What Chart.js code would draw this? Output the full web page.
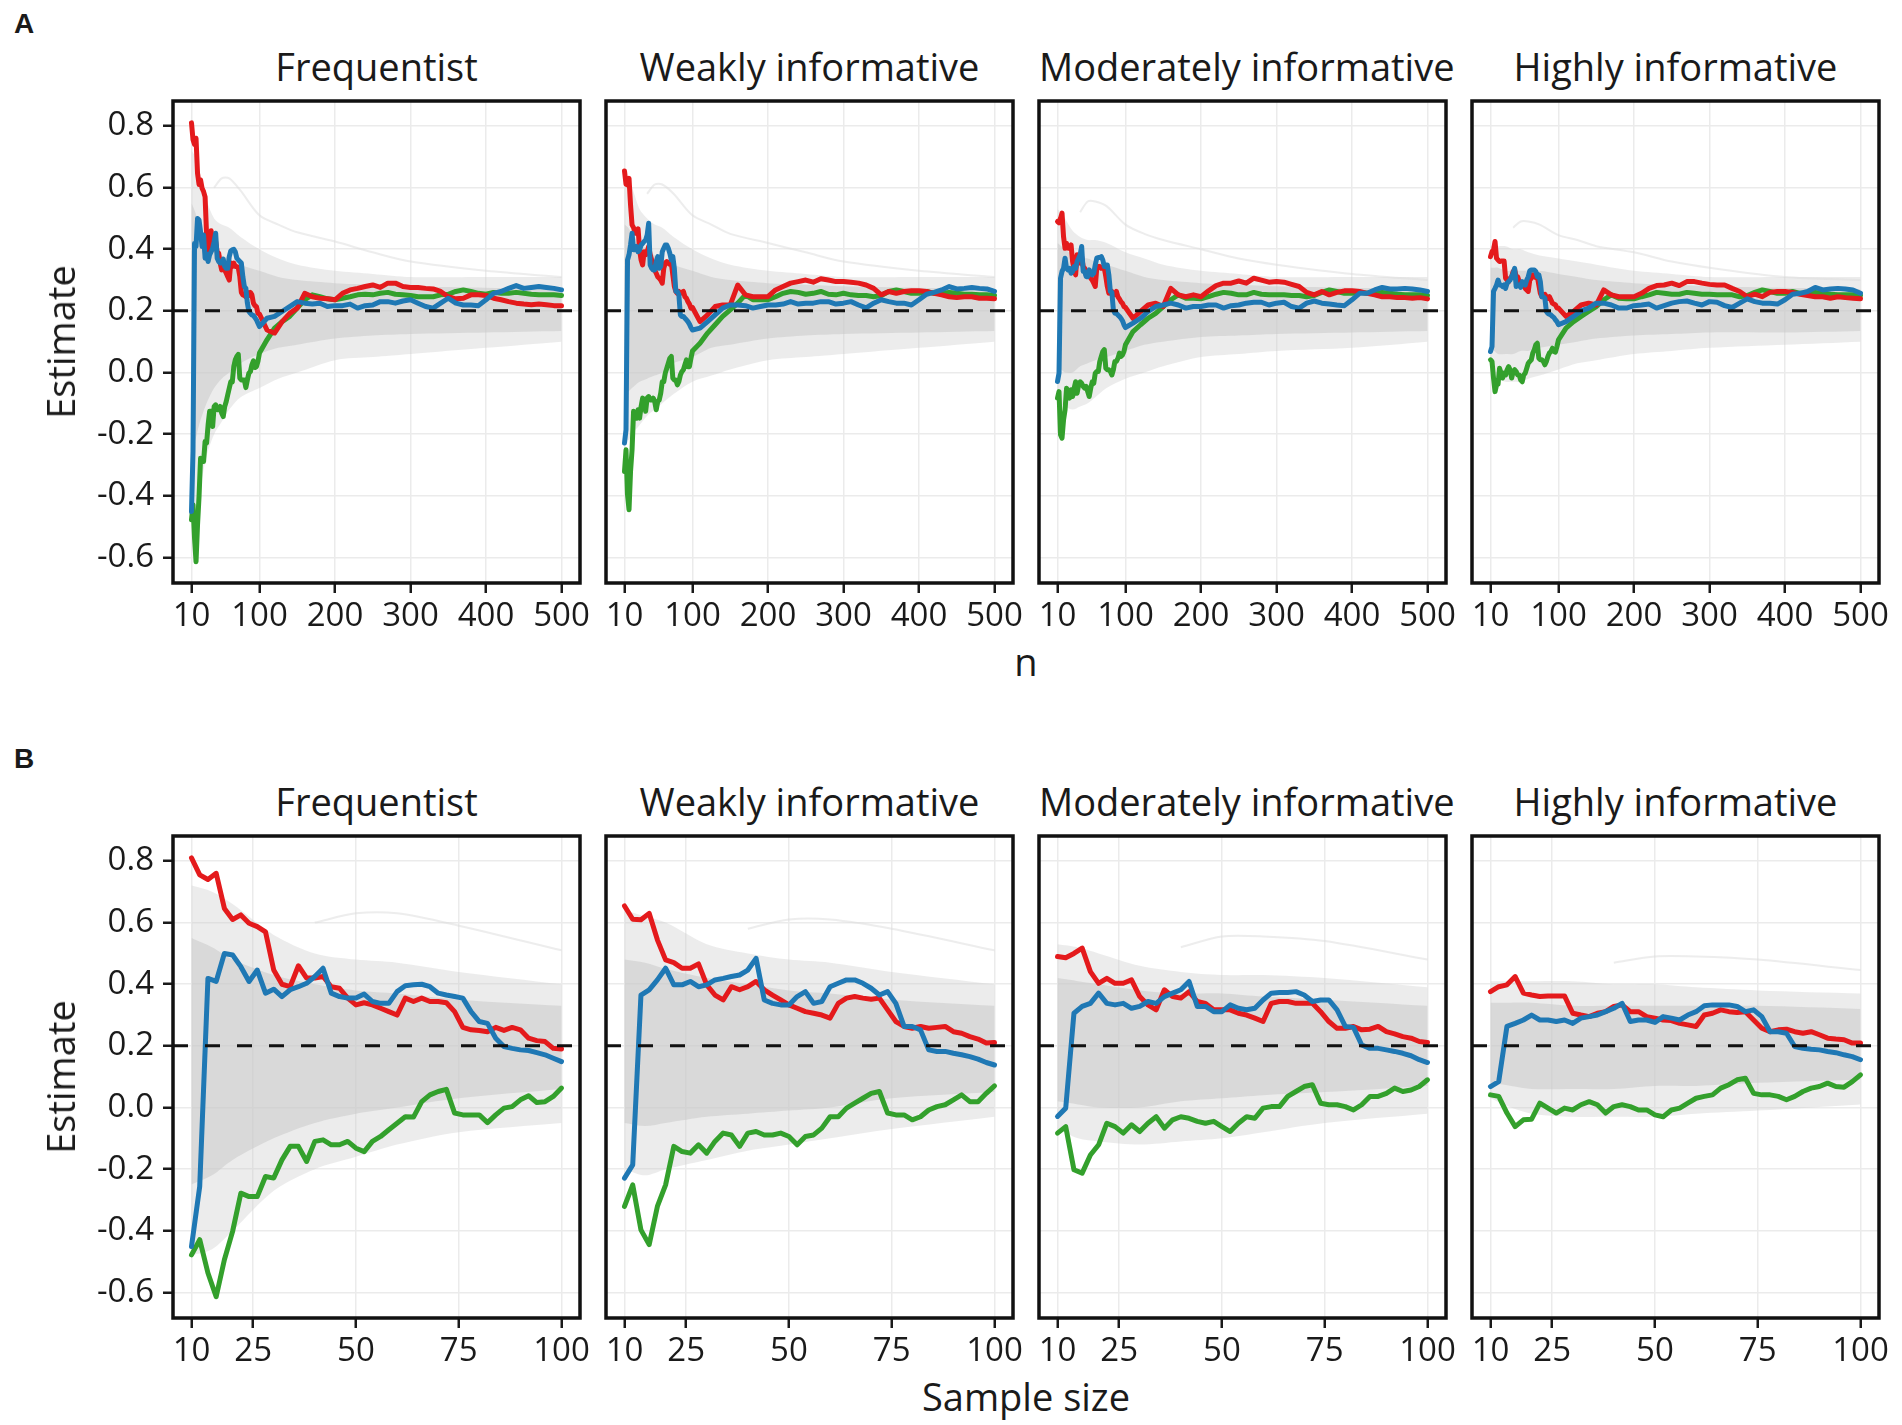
<!DOCTYPE html>
<html>
<head>
<meta charset="utf-8">
<title>Sequential estimates</title>
<script src="https://cdn.jsdelivr.net/npm/chart.js@4.4.1/dist/chart.umd.min.js"></script>
<style>
  html, body { margin: 0; padding: 0; background: #fff; }
  #page { position: relative; width: 1902px; height: 1425px; overflow: hidden; font-family: 'Open Sans', 'Noto Sans', sans-serif; color: #1a1a1a; }
  canvas { position: absolute; }
  .tag { position: absolute; font-family: 'Liberation Sans', Arial, sans-serif; font-weight: bold; font-size: 28px; }
  .strip { position: absolute; text-align: center; white-space: nowrap; font-size: 38px; height: 46px; line-height: 46px; }
  .axis-title { position: absolute; font-size: 38px; white-space: nowrap; transform: translate(-50%, -50%); }
  .axis-title.vert { transform: translate(-50%, -50%) rotate(-90deg); }
</style>
</head>
<body>
<div id="page"></div>
<script>
/* ---------- data ---------- */
// sample sizes: first 100 observations (panel B and start of panel A), then the rest of panel A
const N_HEAD = [10,12,14,16,18,20,22,24,26,28,30,32,34,36,38,40,42,44,46,48,50,52,54,56,58,60,62,64,66,68,70,72,74,76,78,80,82,84,86,88,90,92,94,96,98,100];
const N_TAIL = [110,120,130,140,150,160,170,180,190,200,210,220,230,240,250,260,270,280,290,300,310,320,330,340,350,360,370,380,390,400,410,420,430,440,450,460,470,480,490,500];

const PANEL_TITLES = ['Frequentist', 'Weakly informative', 'Moderately informative', 'Highly informative'];

const X_TICKS_A = [10, 100, 200, 300, 400, 500];
const X_TICKS_B = [10, 25, 50, 75, 100];
const Y_TICKS = [-0.6, -0.4, -0.2, 0, 0.2, 0.4, 0.6, 0.8];
const TRUE_VALUE = 0.2;

// Frequentist
const redFreq = [0.81,0.755,0.74,0.76,0.646,0.61,0.625,0.598,0.587,0.57,0.446,0.40,0.392,0.46,0.42,0.42,0.425,0.392,0.387,0.355,0.333,0.34,0.333,0.322,0.311,0.30,0.355,0.344,0.355,0.344,0.344,0.34,0.311,0.26,0.252,0.25,0.246,0.26,0.25,0.26,0.252,0.225,0.217,0.214,0.192,0.19];
const redFreqTail = [0.138,0.128,0.165,0.192,0.209,0.257,0.246,0.241,0.239,0.236,0.257,0.268,0.273,0.279,0.284,0.276,0.29,0.29,0.279,0.276,0.276,0.273,0.271,0.263,0.246,0.239,0.241,0.252,0.252,0.25,0.241,0.236,0.23,0.225,0.222,0.22,0.222,0.22,0.217,0.217];
const blueFreq = [-0.451,-0.256,0.419,0.409,0.50,0.495,0.457,0.409,0.446,0.371,0.384,0.36,0.382,0.392,0.403,0.425,0.452,0.371,0.36,0.355,0.355,0.368,0.344,0.338,0.338,0.376,0.395,0.398,0.40,0.392,0.371,0.365,0.36,0.355,0.311,0.279,0.273,0.225,0.198,0.192,0.187,0.185,0.178,0.171,0.16,0.149];
const blueFreqTail = [0.176,0.182,0.198,0.214,0.23,0.225,0.222,0.225,0.214,0.217,0.217,0.222,0.209,0.217,0.219,0.23,0.23,0.225,0.232,0.236,0.225,0.214,0.209,0.225,0.241,0.225,0.219,0.219,0.217,0.236,0.257,0.263,0.273,0.282,0.273,0.276,0.279,0.276,0.273,0.268];
const greenFreq = [-0.478,-0.429,-0.537,-0.614,-0.494,-0.402,-0.278,-0.289,-0.289,-0.224,-0.229,-0.17,-0.126,-0.126,-0.175,-0.11,-0.105,-0.121,-0.121,-0.11,-0.132,-0.143,-0.11,-0.094,-0.072,-0.051,-0.03,-0.031,0.019,0.041,0.052,0.059,-0.018,-0.024,-0.024,-0.024,-0.049,-0.024,-0.002,0.003,0.025,0.038,0.016,0.019,0.036,0.063];
const greenFreqTail = [0.106,0.144,0.165,0.182,0.209,0.236,0.252,0.246,0.239,0.236,0.241,0.246,0.252,0.254,0.252,0.257,0.26,0.254,0.252,0.25,0.246,0.246,0.246,0.252,0.254,0.263,0.268,0.263,0.257,0.254,0.26,0.257,0.257,0.26,0.257,0.254,0.252,0.252,0.252,0.25];

// Weakly informative
const redWeak = [0.654,0.611,0.609,0.63,0.544,0.479,0.47,0.452,0.452,0.466,0.398,0.365,0.349,0.392,0.382,0.392,0.409,0.382,0.365,0.349,0.333,0.322,0.311,0.306,0.30,0.29,0.338,0.355,0.36,0.355,0.351,0.355,0.317,0.279,0.263,0.257,0.263,0.257,0.26,0.263,0.246,0.241,0.23,0.222,0.209,0.211];
const redWeakTail = [0.165,0.187,0.214,0.219,0.219,0.284,0.252,0.246,0.246,0.246,0.268,0.279,0.29,0.295,0.30,0.293,0.304,0.30,0.295,0.295,0.293,0.29,0.284,0.273,0.252,0.263,0.257,0.263,0.265,0.265,0.263,0.257,0.252,0.246,0.243,0.246,0.246,0.241,0.241,0.239];
const blueWeak = [-0.229,-0.186,0.365,0.382,0.414,0.452,0.398,0.398,0.409,0.392,0.398,0.414,0.419,0.425,0.43,0.446,0.484,0.349,0.338,0.333,0.333,0.36,0.376,0.338,0.344,0.392,0.403,0.414,0.414,0.403,0.387,0.365,0.376,0.338,0.263,0.263,0.252,0.187,0.182,0.182,0.176,0.171,0.165,0.157,0.146,0.138];
const blueWeakTail = [0.144,0.165,0.187,0.209,0.219,0.219,0.217,0.209,0.214,0.219,0.219,0.222,0.23,0.222,0.225,0.225,0.23,0.23,0.222,0.225,0.23,0.219,0.21,0.225,0.236,0.23,0.225,0.225,0.219,0.236,0.254,0.26,0.268,0.279,0.271,0.273,0.276,0.273,0.271,0.263];
const greenWeak = [-0.321,-0.251,-0.397,-0.445,-0.321,-0.251,-0.126,-0.143,-0.148,-0.121,-0.148,-0.11,-0.083,-0.089,-0.126,-0.083,-0.078,-0.089,-0.089,-0.083,-0.094,-0.121,-0.094,-0.089,-0.067,-0.03,-0.03,-0.002,0.014,0.03,0.046,0.052,-0.018,-0.024,-0.024,-0.04,-0.03,-0.008,0.003,0.009,0.025,0.041,0.019,0.019,0.046,0.07];
const greenWeakTail = [0.095,0.128,0.155,0.182,0.203,0.225,0.252,0.236,0.236,0.236,0.246,0.257,0.263,0.26,0.254,0.257,0.263,0.254,0.252,0.257,0.252,0.25,0.25,0.246,0.25,0.263,0.268,0.263,0.257,0.257,0.263,0.257,0.257,0.26,0.257,0.254,0.254,0.252,0.252,0.25];

// Moderately informative
const redMod = [0.49,0.486,0.50,0.517,0.441,0.403,0.419,0.403,0.403,0.414,0.36,0.333,0.317,0.382,0.36,0.355,0.376,0.344,0.338,0.317,0.317,0.317,0.306,0.30,0.29,0.279,0.338,0.344,0.344,0.338,0.338,0.338,0.311,0.279,0.257,0.257,0.263,0.252,0.254,0.263,0.246,0.239,0.23,0.225,0.214,0.211];
const redModTail = [0.176,0.198,0.219,0.225,0.214,0.273,0.252,0.246,0.252,0.246,0.265,0.282,0.29,0.29,0.297,0.29,0.306,0.30,0.293,0.295,0.293,0.286,0.279,0.26,0.252,0.263,0.252,0.26,0.265,0.265,0.263,0.257,0.252,0.246,0.246,0.243,0.243,0.241,0.243,0.239];
const blueMod = [-0.029,-0.002,0.306,0.328,0.338,0.371,0.338,0.333,0.338,0.322,0.328,0.344,0.338,0.36,0.371,0.382,0.409,0.328,0.328,0.311,0.311,0.333,0.322,0.317,0.322,0.349,0.371,0.373,0.373,0.376,0.365,0.344,0.349,0.349,0.317,0.263,0.26,0.203,0.192,0.192,0.187,0.182,0.176,0.168,0.155,0.146];
const blueModTail = [0.16,0.176,0.198,0.214,0.219,0.225,0.219,0.209,0.214,0.214,0.219,0.219,0.209,0.217,0.219,0.225,0.228,0.228,0.219,0.225,0.228,0.214,0.209,0.225,0.232,0.225,0.222,0.219,0.217,0.236,0.257,0.257,0.268,0.276,0.271,0.271,0.273,0.271,0.268,0.263];
const greenMod = [-0.083,-0.062,-0.202,-0.213,-0.154,-0.121,-0.051,-0.062,-0.083,-0.056,-0.078,-0.051,-0.03,-0.067,-0.04,-0.03,-0.035,-0.045,-0.051,-0.045,-0.062,-0.078,-0.051,-0.03,-0.035,-0.002,0.003,0.003,0.036,0.052,0.068,0.074,0.014,0.009,0.009,0.003,-0.008,0.009,0.036,0.036,0.046,0.063,0.052,0.057,0.068,0.09];
const greenModTail = [0.133,0.155,0.176,0.192,0.214,0.236,0.252,0.241,0.241,0.239,0.246,0.254,0.26,0.257,0.252,0.252,0.26,0.254,0.252,0.252,0.252,0.25,0.25,0.246,0.25,0.26,0.268,0.263,0.257,0.257,0.26,0.257,0.257,0.26,0.257,0.254,0.252,0.252,0.252,0.25];

// Highly informative
const redHigh = [0.376,0.392,0.398,0.425,0.371,0.365,0.36,0.362,0.362,0.362,0.306,0.30,0.295,0.306,0.311,0.328,0.333,0.311,0.311,0.295,0.29,0.284,0.282,0.273,0.268,0.263,0.30,0.306,0.317,0.311,0.308,0.311,0.284,0.257,0.246,0.252,0.254,0.246,0.241,0.246,0.236,0.225,0.222,0.22,0.209,0.209];
const redHighTail = [0.182,0.198,0.219,0.225,0.219,0.268,0.252,0.246,0.246,0.246,0.257,0.273,0.282,0.284,0.29,0.282,0.295,0.295,0.29,0.286,0.284,0.284,0.273,0.263,0.246,0.254,0.246,0.26,0.263,0.263,0.26,0.254,0.25,0.246,0.246,0.241,0.246,0.243,0.241,0.239];
const blueHigh = [0.068,0.084,0.263,0.273,0.284,0.30,0.284,0.284,0.279,0.284,0.273,0.29,0.295,0.30,0.311,0.322,0.338,0.279,0.284,0.284,0.276,0.295,0.29,0.284,0.30,0.311,0.33,0.333,0.333,0.333,0.328,0.311,0.317,0.295,0.246,0.246,0.241,0.198,0.192,0.189,0.187,0.182,0.178,0.171,0.165,0.155];
const blueHighTail = [0.165,0.182,0.20,0.209,0.225,0.225,0.219,0.209,0.209,0.217,0.219,0.222,0.209,0.217,0.225,0.23,0.232,0.225,0.219,0.23,0.228,0.217,0.211,0.225,0.239,0.23,0.225,0.225,0.222,0.236,0.254,0.257,0.263,0.276,0.268,0.271,0.273,0.271,0.268,0.257];
const greenHigh = [0.041,0.036,-0.018,-0.062,-0.04,-0.038,0.014,-0.002,-0.018,-0.002,-0.008,0.009,0.019,0.009,-0.018,0.003,0.009,0.003,-0.008,-0.008,-0.024,-0.03,-0.008,-0.002,0.014,0.03,0.036,0.041,0.063,0.074,0.09,0.095,0.046,0.041,0.041,0.036,0.025,0.036,0.052,0.063,0.068,0.079,0.068,0.066,0.084,0.106];
const greenHighTail = [0.144,0.165,0.182,0.198,0.214,0.236,0.252,0.241,0.239,0.239,0.246,0.252,0.26,0.257,0.254,0.254,0.26,0.257,0.254,0.254,0.252,0.252,0.252,0.246,0.25,0.26,0.268,0.263,0.257,0.257,0.263,0.257,0.257,0.26,0.257,0.254,0.252,0.252,0.252,0.25];

// grey cloud of all simulated trajectories: outer envelope and dense core
const BAND_N = [10, 15, 20, 30, 40, 50, 60, 75, 100, 125, 150, 200, 250, 300, 400, 500];
const outerHiFreq = [0.72, 0.70, 0.66, 0.56, 0.50, 0.48, 0.47, 0.44, 0.40, 0.37, 0.35, 0.33, 0.32, 0.31, 0.31, 0.31];
const outerLoFreq = [-0.48, -0.46, -0.40, -0.27, -0.20, -0.16, -0.12, -0.08, -0.05, -0.02, 0.0, 0.04, 0.05, 0.06, 0.08, 0.10];
const coreHiFreq  = [0.55, 0.52, 0.48, 0.43, 0.40, 0.38, 0.37, 0.35, 0.33, 0.31, 0.30, 0.29, 0.285, 0.28, 0.275, 0.27];
const coreLoFreq  = [-0.25, -0.22, -0.17, -0.10, -0.05, -0.02, 0.0, 0.03, 0.06, 0.08, 0.09, 0.11, 0.12, 0.125, 0.13, 0.135];
const outerHiWeak = [0.64, 0.62, 0.60, 0.53, 0.50, 0.48, 0.47, 0.44, 0.40, 0.37, 0.35, 0.33, 0.32, 0.31, 0.31, 0.31];
const outerLoWeak = [-0.20, -0.22, -0.20, -0.17, -0.14, -0.12, -0.10, -0.07, -0.03, -0.01, 0.01, 0.04, 0.05, 0.06, 0.08, 0.10];
const coreHiWeak  = [0.48, 0.47, 0.45, 0.42, 0.40, 0.38, 0.37, 0.35, 0.33, 0.31, 0.30, 0.29, 0.285, 0.28, 0.275, 0.27];
const coreLoWeak  = [-0.05, -0.06, -0.05, -0.03, -0.02, -0.01, 0.0, 0.03, 0.05, 0.08, 0.09, 0.11, 0.12, 0.125, 0.13, 0.135];
const outerHiMod  = [0.53, 0.52, 0.50, 0.46, 0.44, 0.43, 0.43, 0.42, 0.39, 0.37, 0.35, 0.33, 0.32, 0.31, 0.31, 0.31];
const outerLoMod  = [-0.07, -0.10, -0.11, -0.12, -0.11, -0.10, -0.08, -0.05, -0.02, 0.0, 0.02, 0.05, 0.06, 0.07, 0.08, 0.10];
const coreHiMod   = [0.42, 0.41, 0.40, 0.38, 0.37, 0.37, 0.36, 0.35, 0.33, 0.31, 0.30, 0.29, 0.285, 0.28, 0.275, 0.27];
const coreLoMod   = [0.02, 0.01, 0.0, 0.0, 0.02, 0.03, 0.04, 0.05, 0.07, 0.09, 0.10, 0.115, 0.12, 0.125, 0.13, 0.135];
const outerHiHigh = [0.41, 0.41, 0.41, 0.41, 0.40, 0.40, 0.39, 0.38, 0.37, 0.36, 0.35, 0.33, 0.32, 0.31, 0.31, 0.31];
const outerLoHigh = [0.03, 0.0, -0.02, -0.03, -0.03, -0.03, -0.02, -0.01, 0.01, 0.03, 0.04, 0.06, 0.07, 0.08, 0.09, 0.10];
const coreHiHigh  = [0.34, 0.34, 0.34, 0.33, 0.33, 0.33, 0.33, 0.33, 0.32, 0.31, 0.30, 0.29, 0.285, 0.28, 0.275, 0.27];
const coreLoHigh  = [0.08, 0.07, 0.06, 0.06, 0.06, 0.07, 0.07, 0.08, 0.09, 0.10, 0.11, 0.12, 0.125, 0.13, 0.13, 0.135];

// one faint trajectory that sits above the cloud
const OUTLIER_N = [40, 50, 60, 75, 100, 125, 150, 200, 250, 300, 400, 500];
const outlierFreq = [0.60, 0.63, 0.63, 0.59, 0.51, 0.48, 0.455, 0.425, 0.39, 0.36, 0.33, 0.31];
const outlierWeak = [0.58, 0.61, 0.61, 0.58, 0.51, 0.48, 0.45, 0.42, 0.39, 0.36, 0.33, 0.31];
const outlierMod  = [0.52, 0.555, 0.555, 0.54, 0.48, 0.45, 0.43, 0.40, 0.37, 0.35, 0.32, 0.30];
const outlierHigh = [0.47, 0.49, 0.49, 0.48, 0.446, 0.43, 0.41, 0.39, 0.36, 0.34, 0.31, 0.30];

/* ---------- styling / layout ---------- */
const COLORS = { red: '#e41a1c', blue: '#1f78b4', green: '#33a02c', ink: '#1a1a1a', grid: '#ebebeb' };
const FONT = "'Open Sans', 'Noto Sans', sans-serif";
const PANEL_LEFT = [173, 606, 1039, 1472];
const PANEL_W = 407;
const ROW_TOP = [101, 836];
const PANEL_H = 482;
const Y_AXIS_W = 173;
const X_AXIS_H = 52;
const PAD_TOP = 6;
const PAD_RIGHT = 30;
const PAD_LEFT = 8;

const panels = [
  { red: redFreq, redTail: redFreqTail, blue: blueFreq, blueTail: blueFreqTail, green: greenFreq, greenTail: greenFreqTail,
    oHi: outerHiFreq, oLo: outerLoFreq, cHi: coreHiFreq, cLo: coreLoFreq, out: outlierFreq },
  { red: redWeak, redTail: redWeakTail, blue: blueWeak, blueTail: blueWeakTail, green: greenWeak, greenTail: greenWeakTail,
    oHi: outerHiWeak, oLo: outerLoWeak, cHi: coreHiWeak, cLo: coreLoWeak, out: outlierWeak },
  { red: redMod, redTail: redModTail, blue: blueMod, blueTail: blueModTail, green: greenMod, greenTail: greenModTail,
    oHi: outerHiMod, oLo: outerLoMod, cHi: coreHiMod, cLo: coreLoMod, out: outlierMod },
  { red: redHigh, redTail: redHighTail, blue: blueHigh, blueTail: blueHighTail, green: greenHigh, greenTail: greenHighTail,
    oHi: outerHiHigh, oLo: outerLoHigh, cHi: coreHiHigh, cLo: coreLoHigh, out: outlierHigh }
];

// rows: A = whole run (n up to 500), B = first 100 observations
const rows = [
  { tag: 'A', xTicks: X_TICKS_A, xMin: -14.5, xMax: 524.5, nMax: 500, xTitle: 'n' },
  { tag: 'B', xTicks: X_TICKS_B, xMin: 5.5, xMax: 104.5, nMax: 100, xTitle: 'Sample size' }
];

function points(xs, ys, nMax) {
  const out = [];
  xs.forEach((x, i) => { if (x <= nMax) out.push({ x: x, y: ys[i] }); });
  return out;
}

const panelBorder = {
  id: 'panelBorder',
  afterDraw(chart) {
    const { ctx, chartArea: a } = chart;
    ctx.save();
    ctx.strokeStyle = '#111';
    ctx.lineWidth = 3.5;
    ctx.strokeRect(a.left, a.top, a.right - a.left, a.bottom - a.top);
    ctx.restore();
  }
};

const page = document.getElementById('page');

function addText(cls, text, style) {
  const d = document.createElement('div');
  d.className = cls;
  d.textContent = text;
  Object.assign(d.style, style);
  page.appendChild(d);
}

// keep every panel the same size: drop the padding chart.js adds for label overflow
function noScalePadding(s) {
  s.paddingTop = 0; s.paddingBottom = 0; s.paddingLeft = 0; s.paddingRight = 0;
}

function buildPanel(r, c) {
  const row = rows[r];
  const p = panels[c];
  const first = c === 0;
  const leftW = first ? Y_AXIS_W : PAD_LEFT;

  const canvas = document.createElement('canvas');
  const w = leftW + PANEL_W + PAD_RIGHT;
  const h = PAD_TOP + PANEL_H + X_AXIS_H;
  canvas.width = w;
  canvas.height = h;
  canvas.style.left = (PANEL_LEFT[c] - leftW) + 'px';
  canvas.style.top = (ROW_TOP[r] - PAD_TOP) + 'px';
  canvas.style.width = w + 'px';
  canvas.style.height = h + 'px';
  page.appendChild(canvas);

  const xs = N_HEAD.concat(N_TAIL);
  const line = (ys, color) => ({
    data: points(xs, ys, row.nMax), borderColor: color, borderWidth: 5,
    pointRadius: 0, tension: 0, fill: false, borderJoinStyle: 'round', borderCapStyle: 'round'
  });
  const band = (ys, fill, bg) => ({
    data: points(BAND_N, ys, row.nMax), borderColor: 'transparent', borderWidth: 0,
    pointRadius: 0, tension: 0.3, fill: fill, backgroundColor: bg
  });

  // first dataset is drawn on top
  const datasets = [
    { data: [{ x: row.xMin, y: TRUE_VALUE }, { x: row.xMax, y: TRUE_VALUE }], borderColor: '#111',
      borderWidth: 3, borderDash: [15, 17], pointRadius: 0, fill: false },
    line(p.blue.concat(p.blueTail), COLORS.blue),
    line(p.red.concat(p.redTail), COLORS.red),
    line(p.green.concat(p.greenTail), COLORS.green),
    { data: points(OUTLIER_N, p.out, row.nMax), borderColor: 'rgba(220,220,220,0.5)', borderWidth: 2,
      pointRadius: 0, tension: 0.3, fill: false },
    band(p.oHi, '+1', 'rgba(205,205,205,0.38)'),
    band(p.oLo, false, 'transparent'),
    band(p.cHi, '+1', 'rgba(195,195,195,0.5)'),
    band(p.cLo, false, 'transparent')
  ];

  new Chart(canvas.getContext('2d'), {
    type: 'line',
    data: { datasets },
    plugins: [panelBorder],
    options: {
      responsive: false,
      animation: false,
      events: [],
      devicePixelRatio: 1,
      layout: { padding: { left: first ? 0 : PAD_LEFT, right: PAD_RIGHT, top: PAD_TOP, bottom: 0 } },
      plugins: { legend: { display: false }, tooltip: { enabled: false } },
      scales: {
        x: {
          type: 'linear',
          min: row.xMin,
          max: row.xMax,
          afterBuildTicks: (s) => { s.ticks = row.xTicks.map(v => ({ value: v })); },
          afterFit: (s) => { s.height = X_AXIS_H; noScalePadding(s); },
          border: { display: false },
          grid: { color: COLORS.grid, lineWidth: 1.5, drawTicks: true, tickLength: 10, tickColor: COLORS.ink, tickWidth: 2.5 },
          ticks: { autoSkip: false, maxRotation: 0, padding: 4, color: COLORS.ink,
                   font: { family: FONT, size: 33 }, callback: (v) => String(v) }
        },
        y: {
          type: 'linear',
          min: -0.683,
          max: 0.881,
          afterBuildTicks: (s) => { s.ticks = Y_TICKS.map(v => ({ value: v })); },
          afterFit: (s) => { s.width = first ? Y_AXIS_W : 0; noScalePadding(s); },
          border: { display: false },
          grid: { color: COLORS.grid, lineWidth: 1.5, drawTicks: first, tickLength: 10, tickColor: COLORS.ink, tickWidth: 2.5 },
          ticks: { display: first, padding: 9, color: COLORS.ink, font: { family: FONT, size: 33 },
                   callback: (v) => (Math.abs(v) < 1e-9 ? '0.0' : v.toFixed(1)) }
        }
      }
    }
  });
}

rows.forEach((row, r) => {
  addText('tag', row.tag, { left: '14px', top: (ROW_TOP[r] - 93) + 'px' });
  PANEL_TITLES.forEach((t, c) => {
    addText('strip', t, { left: PANEL_LEFT[c] + 'px', width: PANEL_W + 'px', top: (ROW_TOP[r] - 58) + 'px' });
    buildPanel(r, c);
  });
  addText('axis-title vert', 'Estimate', { left: '60px', top: (ROW_TOP[r] + PANEL_H / 2) + 'px' });
  const cx = (PANEL_LEFT[0] + PANEL_LEFT[3] + PANEL_W) / 2;
  addText('axis-title', row.xTitle, { left: cx + 'px', top: (ROW_TOP[r] + PANEL_H + 78) + 'px' });
});
</script>
</body>
</html>
